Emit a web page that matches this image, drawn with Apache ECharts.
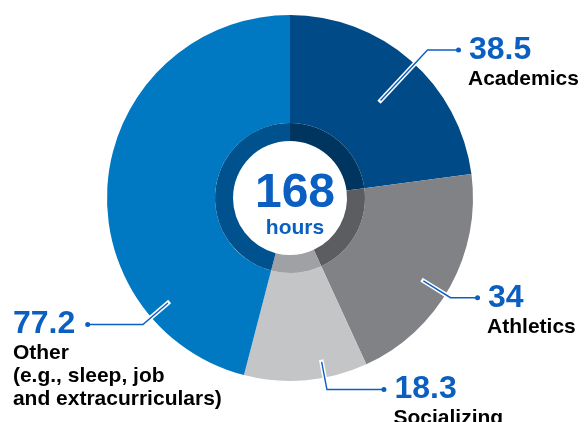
<!DOCTYPE html>
<html>
<head>
<meta charset="utf-8">
<script src="https://cdn.jsdelivr.net/npm/echarts@6/dist/echarts.min.js"></script>
<style>
  html, body { margin: 0; padding: 0; background: #fff; }
  #main { width: 586px; height: 422px; }
</style>
</head>
<body>
<div id="main"></div>
<script>
// data
let categories = ['Academics', 'Athletics', 'Socializing', 'Other'];
let hours = [38.5, 34, 18.3, 77.2];
let valueLabels = ['38.5', '34', '18.3', '77.2'];
let nameLabels = ['Academics', 'Athletics', 'Socializing', 'Other\n(e.g., sleep, job\nand extracurriculars)'];
let totalLabel = '168';
let totalUnit = 'hours';

// styles
let sliceColors = ['#004b87', '#808285', '#c4c5c7', '#0079c2'];
let ringColors = ['#00355f', '#5c5d60', '#a0a1a4', '#00528f'];
let BLUE = '#0b5fc1';
let FONT = '"Liberation Sans", Arial, sans-serif';
let CX = 290, CY = 198, R = 183;
// where the pointer sits inside each slice (fraction of its angle), radii of the pointer
let labelFrac = [0.52, 0.54, 0.35, 0.21];
let startR = [133, 157, 167, 161];
let bendR = [202, 189, 195, 194];
let arm = [31, 27, 57, -55];

let total = hours.reduce((a, b) => a + b, 0);

function pointAt(i, r) {
  let cum = 0;
  for (let j = 0; j < i; j++) cum += hours[j];
  let a = (cum + labelFrac[i] * hours[i]) / total * Math.PI * 2;
  return [CX + r * Math.sin(a), CY - r * Math.cos(a)];
}

let myChart = echarts.init(document.getElementById('main'));

let pieData = categories.map((c, i) => ({ name: c, value: hours[i], itemStyle: { color: sliceColors[i] } }));
let ringData = categories.map((c, i) => ({ name: c, value: hours[i], itemStyle: { color: ringColors[i] } }));
let ghostData = categories.map((c, i) => ({ name: c, value: hours[i] }));

let ghostBase = {
  type: 'pie',
  center: [CX, CY],
  radius: [0, R],
  startAngle: 90,
  silent: true,
  avoidLabelOverlap: false,
  emphasis: { disabled: true },
  itemStyle: { color: 'rgba(0,0,0,0)' },
  data: ghostData
};

let option = {
  animation: false,
  backgroundColor: '#fff',
  title: {
    text: totalLabel,
    subtext: totalUnit,
    left: CX,
    top: 165,
    textAlign: 'center',
    itemGap: 0,
    textStyle: { fontSize: 48, fontWeight: 'bold', color: BLUE, fontFamily: FONT },
    subtextStyle: { fontSize: 21, fontWeight: 'bold', color: BLUE, fontFamily: FONT }
  },
  series: [
    {
      type: 'pie',
      center: [CX, CY],
      radius: [75, R],
      startAngle: 90,
      silent: true,
      z: 2,
      emphasis: { disabled: true },
      label: { show: false },
      labelLine: { show: false },
      data: pieData
    },
    {
      type: 'pie',
      center: [CX, CY],
      radius: [57, 75],
      startAngle: 90,
      silent: true,
      z: 2,
      emphasis: { disabled: true },
      label: { show: false },
      labelLine: { show: false },
      data: ringData
    },
    // white halo of the pointer inside the slice
    Object.assign({}, ghostBase, {
      z: 3,
      label: { show: true, position: 'outside', formatter: '.', color: 'rgba(0,0,0,0)', fontSize: 1 },
      labelLine: { show: true, lineStyle: { color: '#ffffff', width: 4.5, cap: 'square' } },
      labelLayout: function (p) {
        let s = pointAt(p.dataIndex, startR[p.dataIndex]);
        let e = pointAt(p.dataIndex, R);
        return { x: s[0], y: s[1], labelLinePoints: [s, e, e] };
      }
    }),
    // blue pointer and labels
    Object.assign({}, ghostBase, {
      z: 4,
      label: {
        show: true,
        position: 'outside',
        formatter: function (p) {
          let i = p.dataIndex;
          if (arm[i] < 0) {
            let lines = nameLabels[i].split('\n').map(t => '{n|' + t + '}').join('\n');
            return '{vl|' + valueLabels[i] + '}{d| }\n' + lines;
          }
          return '{d| }{v|' + valueLabels[i] + '}\n{nr|' + nameLabels[i] + '}';
        },
        rich: {
          d: { width: 5, height: 5, backgroundColor: BLUE, borderRadius: 3, lineHeight: 34 },
          v: { fontSize: 32, fontWeight: 'bold', color: BLUE, fontFamily: FONT, lineHeight: 34, padding: [0, 0, 0, 8] },
          vl: { fontSize: 32, fontWeight: 'bold', color: BLUE, fontFamily: FONT, lineHeight: 34, padding: [0, 10, 0, 0] },
          nr: { fontSize: 21, fontWeight: 'bold', color: '#000', fontFamily: FONT, lineHeight: 24, padding: [0, 0, 0, 12] },
          n: { fontSize: 21, fontWeight: 'bold', color: '#000', fontFamily: FONT, lineHeight: 23 }
        }
      },
      labelLine: { show: true, lineStyle: { color: BLUE, width: 1.4 } },
      labelLayout: function (p) {
        let i = p.dataIndex;
        let s = pointAt(i, startR[i]);
        let b = pointAt(i, bendR[i]);
        let end = [b[0] + arm[i], b[1]];
        let x = arm[i] < 0 ? end[0] - 75 : end[0] - 2.5;
        return {
          x: x,
          y: end[1] - 17,
          align: 'left',
          verticalAlign: 'top',
          labelLinePoints: [s, b, end]
        };
      }
    })
  ]
};

myChart.setOption(option);
</script>
</body>
</html>
